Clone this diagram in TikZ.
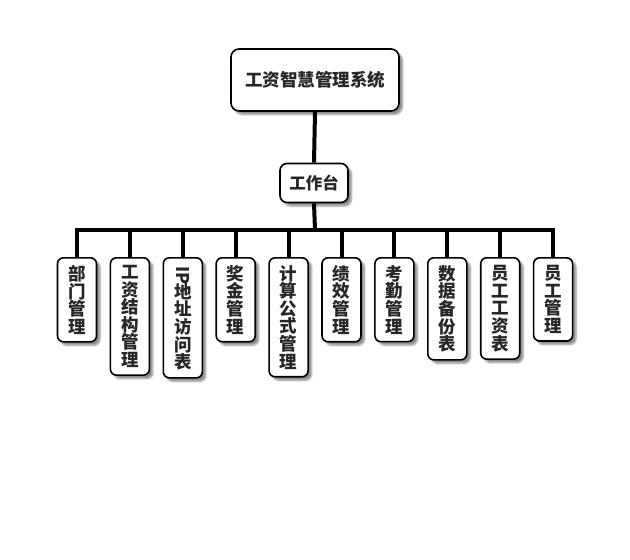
\documentclass[tikz,border=0pt]{standalone}
\usepackage{graphicx}
\usepackage{fontspec}
\newfontfamily\cjk{Noto Sans CJK SC}
\usetikzlibrary{shadows.blur}

\tikzset{
  box/.style={draw=black, line width=1.6pt, rounded corners=7pt, fill=white,
    text=black!85, font=\cjk\bfseries\fontsize{16.5}{17.5}\selectfont,
    blur shadow={shadow xshift=3.5pt, shadow yshift=-3.5pt, shadow blur steps=6, shadow opacity=45}},
  leaf/.style={box, rounded corners=6pt, align=center, minimum width=39pt, inner xsep=2pt, inner ysep=7.5pt, anchor=north,
    font=\cjk\bfseries\fontsize{17.5}{17.6}\selectfont},
  link/.style={draw=black, line width=4pt}
}
% vertical latin letters, kept to one CJK cell
\newcommand{\vlatin}[1]{\raisebox{0.8em}[0.88em][0.12em]{\rotatebox{-90}{#1}}}

\begin{document}
\begin{tikzpicture}[x=1pt, y=-1pt]

			\useasboundingbox (0, 0) rectangle (630, 560);

			\node[box, minimum width=168pt, minimum height=62pt, rounded corners=8pt,
			      font=\cjk\bfseries\fontsize{17.5}{18}\selectfont] (root) at (315, 80) {工资智慧管理系统};
			\node[box, minimum width=68pt, minimum height=39pt] (desk) at (314, 183) {工作台};
			\coordinate (bar) at (315, 230);

			\foreach \i/\txt in {0/{部\\门\\管\\理}, 1/{工\\资\\结\\构\\管\\理},
			      2/{\vlatin{IP}\\地\\址\\访\\问\\表}, 3/{奖\\金\\管\\理},
			      4/{计\\算\\公\\式\\管\\理}, 5/{绩\\效\\管\\理}, 6/{考\\勤\\管\\理},
			      7/{数\\据\\备\\份\\表}, 8/{员\\工\\工\\资\\表}, 9/{员\\工\\管\\理}}
			{
				\node[leaf] (m\i) at (77 + 52.9*\i, 257) {\txt};
			}

			\draw[link] (root.south) -- (desk.north);
			\draw[link] (desk.south) -- (bar);
			\foreach \i in {0,...,9}
				\draw[link] (bar) -| (m\i.north);

		\end{tikzpicture}
\end{document}
